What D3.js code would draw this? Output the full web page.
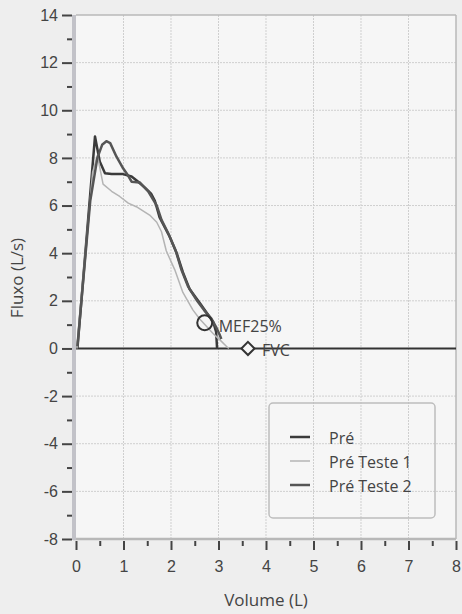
<!DOCTYPE html>
<html>
<head>
<meta charset="utf-8">
<style>
body { margin: 0; background: #eeeeee; }
svg { display: block; font-family: "Open Sans", sans-serif; }
.tick text { fill: #444; font-size: 16px; }
.grid line { stroke: #cfcfcf; stroke-dasharray: 2,1; }
</style>
<script src="https://d3js.org/d3.v7.min.js"></script>
</head>
<body>
<svg width="462" height="614"></svg>
<script>

// volume (L), flow (L/s)
var pre = [[0.03,0],[0.40,8.9],[0.50,7.85],[0.61,7.36],[0.75,7.32],[0.99,7.32],[1.17,7.22],[1.31,7.0],[1.45,6.75],[1.58,6.5],[1.66,6.2],[1.76,5.5],[1.97,4.7],[2.12,4.0],[2.25,3.2],[2.39,2.5],[2.61,1.9],[2.75,1.5],[2.89,1.1],[2.95,0.7],[2.97,0]];
var preTeste1 = [[0.02,0],[0.35,7.4],[0.45,8.1],[0.50,7.6],[0.57,6.9],[0.75,6.6],[0.92,6.38],[1.1,6.1],[1.27,5.95],[1.55,5.6],[1.70,5.3],[1.80,4.9],[1.90,4.1],[2.08,3.3],[2.25,2.35],[2.46,1.62],[2.6,1.25],[2.75,0.92],[2.9,0.6],[3.03,0.36],[3.17,0.08],[3.22,0]];
var preTeste2 = [[0.03,0.1],[0.30,6.2],[0.45,8.0],[0.55,8.55],[0.64,8.7],[0.72,8.62],[0.85,8.06],[0.98,7.6],[1.10,7.25],[1.17,7.0],[1.34,6.97],[1.52,6.6],[1.70,6.0],[1.80,5.4],[1.95,4.8],[2.10,4.1],[2.22,3.3],[2.36,2.6],[2.55,2.0],[2.70,1.6],[2.85,1.25],[2.95,0.9],[3.02,0.6],[3.06,0.4]];

var seriesNames = ["Pré", "Pré Teste 1", "Pré Teste 2"];
var seriesColors = ["#3a3a3a", "#b4b4b4", "#555555"];
var seriesWidths = [2.5, 1.5, 2.5];

var mef25 = [2.71, 1.08];
var fvc = [3.62, 0];

var xMajor = [0,1,2,3,4,5,6,7,8];
var xMinor = [0.5,1.5,2.5,3.5,4.5,5.5,6.5,7.5];
var yMajor = [-8,-6,-4,-2,0,2,4,6,8,10,12,14];
var yMinor = [-7,-5,-3,-1,1,3,5,7,9,11,13];

var svg = d3.select("svg");

var x = d3.scaleLinear().domain([0, 8]).range([76, 456]);
var y = d3.scaleLinear().domain([-8, 14]).range([539, 15]);

var fmt = function(d) { return String(d); };

// plot background
svg.append("rect")
    .attr("x", x(0)).attr("y", y(14))
    .attr("width", x(8) - x(0)).attr("height", y(-8) - y(14))
    .attr("fill", "#f6f6f6");

// grid
var grid = svg.append("g").attr("class", "grid");
grid.selectAll(".gx").data(xMajor.slice(1, -1)).enter().append("line")
    .attr("x1", function(d) { return x(d); }).attr("x2", function(d) { return x(d); })
    .attr("y1", y(14)).attr("y2", y(-8));
grid.selectAll(".gy").data(yMajor.slice(1, -1)).enter().append("line")
    .attr("x1", x(0)).attr("x2", x(8))
    .attr("y1", function(d) { return y(d); }).attr("y2", function(d) { return y(d); });

// frame
svg.append("line").attr("x1", x(0)).attr("x2", x(8)).attr("y1", y(14)).attr("y2", y(14))
    .attr("stroke", "#b8b8b8").attr("stroke-width", 1.5);
svg.append("line").attr("x1", x(8)).attr("x2", x(8)).attr("y1", y(14)).attr("y2", y(-8))
    .attr("stroke", "#b8b8b8").attr("stroke-width", 1.5);
svg.append("line").attr("x1", x(0) - 3).attr("x2", x(8)).attr("y1", y(-8)).attr("y2", y(-8))
    .attr("stroke", "#b8b8b8").attr("stroke-width", 2.5);
svg.append("line").attr("x1", x(0) - 2).attr("x2", x(0) - 2).attr("y1", y(14)).attr("y2", y(-8) + 1)
    .attr("stroke", "#c2c2c8").attr("stroke-width", 4);

// axes
svg.append("g").attr("transform", "translate(72,0)")
    .call(d3.axisLeft(y).tickValues(yMajor).tickSize(10).tickPadding(4).tickFormat(fmt));
svg.append("g").attr("transform", "translate(72,0)")
    .call(d3.axisLeft(y).tickValues(yMinor).tickSize(5).tickFormat(""));
svg.append("g").attr("transform", "translate(0,541)")
    .call(d3.axisBottom(x).tickValues(xMajor).tickSize(9).tickPadding(11).tickFormat(fmt));
svg.append("g").attr("transform", "translate(0,541)")
    .call(d3.axisBottom(x).tickValues(xMinor).tickSize(5).tickFormat(""));
svg.selectAll(".domain").remove();
svg.selectAll(".tick line").attr("stroke", "#444").attr("stroke-width", 2);

// axis titles
svg.append("text")
    .attr("transform", "translate(23,278) rotate(-90)")
    .attr("text-anchor", "middle")
    .attr("fill", "#444").attr("font-size", 17)
    .text("Fluxo (L/s)");
svg.append("text")
    .attr("x", 266).attr("y", 606)
    .attr("text-anchor", "middle")
    .attr("fill", "#444").attr("font-size", 17)
    .text("Volume (L)");

// zero line
svg.append("line").attr("x1", x(0)).attr("x2", x(8)).attr("y1", y(0)).attr("y2", y(0))
    .attr("stroke", "#333").attr("stroke-width", 2);

// curves
var line = d3.line().x(function(d) { return x(d[0]); }).y(function(d) { return y(d[1]); });
[pre, preTeste1, preTeste2].forEach(function(s, i) {
  svg.append("path").datum(s)
      .attr("d", line)
      .attr("fill", "none")
      .attr("stroke", seriesColors[i])
      .attr("stroke-width", seriesWidths[i])
      .attr("stroke-linejoin", "round");
});

// markers
svg.append("circle")
    .attr("cx", x(mef25[0])).attr("cy", y(mef25[1])).attr("r", 7.5)
    .attr("fill", "none").attr("stroke", "#333").attr("stroke-width", 2);
svg.append("text")
    .attr("x", x(mef25[0]) + 14).attr("y", y(mef25[1]) + 9)
    .attr("fill", "#444").attr("font-size", 16)
    .text("MEF25%");

svg.append("path")
    .attr("d", d3.symbol().type(d3.symbolDiamond2).size(110))
    .attr("transform", "translate(" + x(fvc[0]) + "," + y(fvc[1]) + ")")
    .attr("fill", "#f6f6f6").attr("stroke", "#333").attr("stroke-width", 2);
svg.append("text")
    .attr("x", x(fvc[0]) + 14).attr("y", y(fvc[1]) + 8)
    .attr("fill", "#444").attr("font-size", 16)
    .text("FVC");

// legend
svg.append("rect")
    .attr("x", 269).attr("y", 403).attr("width", 166).attr("height", 115).attr("rx", 4)
    .attr("fill", "none").attr("stroke", "#bdbdbd").attr("stroke-width", 1.5);
var legend = svg.selectAll(".legend").data(seriesNames).enter().append("g")
    .attr("transform", function(d, i) { return "translate(290," + (437 + i * 24) + ")"; });
legend.append("line")
    .attr("x1", 0).attr("x2", 20)
    .attr("stroke", function(d, i) { return seriesColors[i]; })
    .attr("stroke-width", function(d, i) { return seriesWidths[i]; });
legend.append("text")
    .attr("x", 39).attr("y", 7)
    .attr("fill", "#444").attr("font-size", 16)
    .text(function(d) { return d; });

</script>
</body>
</html>
